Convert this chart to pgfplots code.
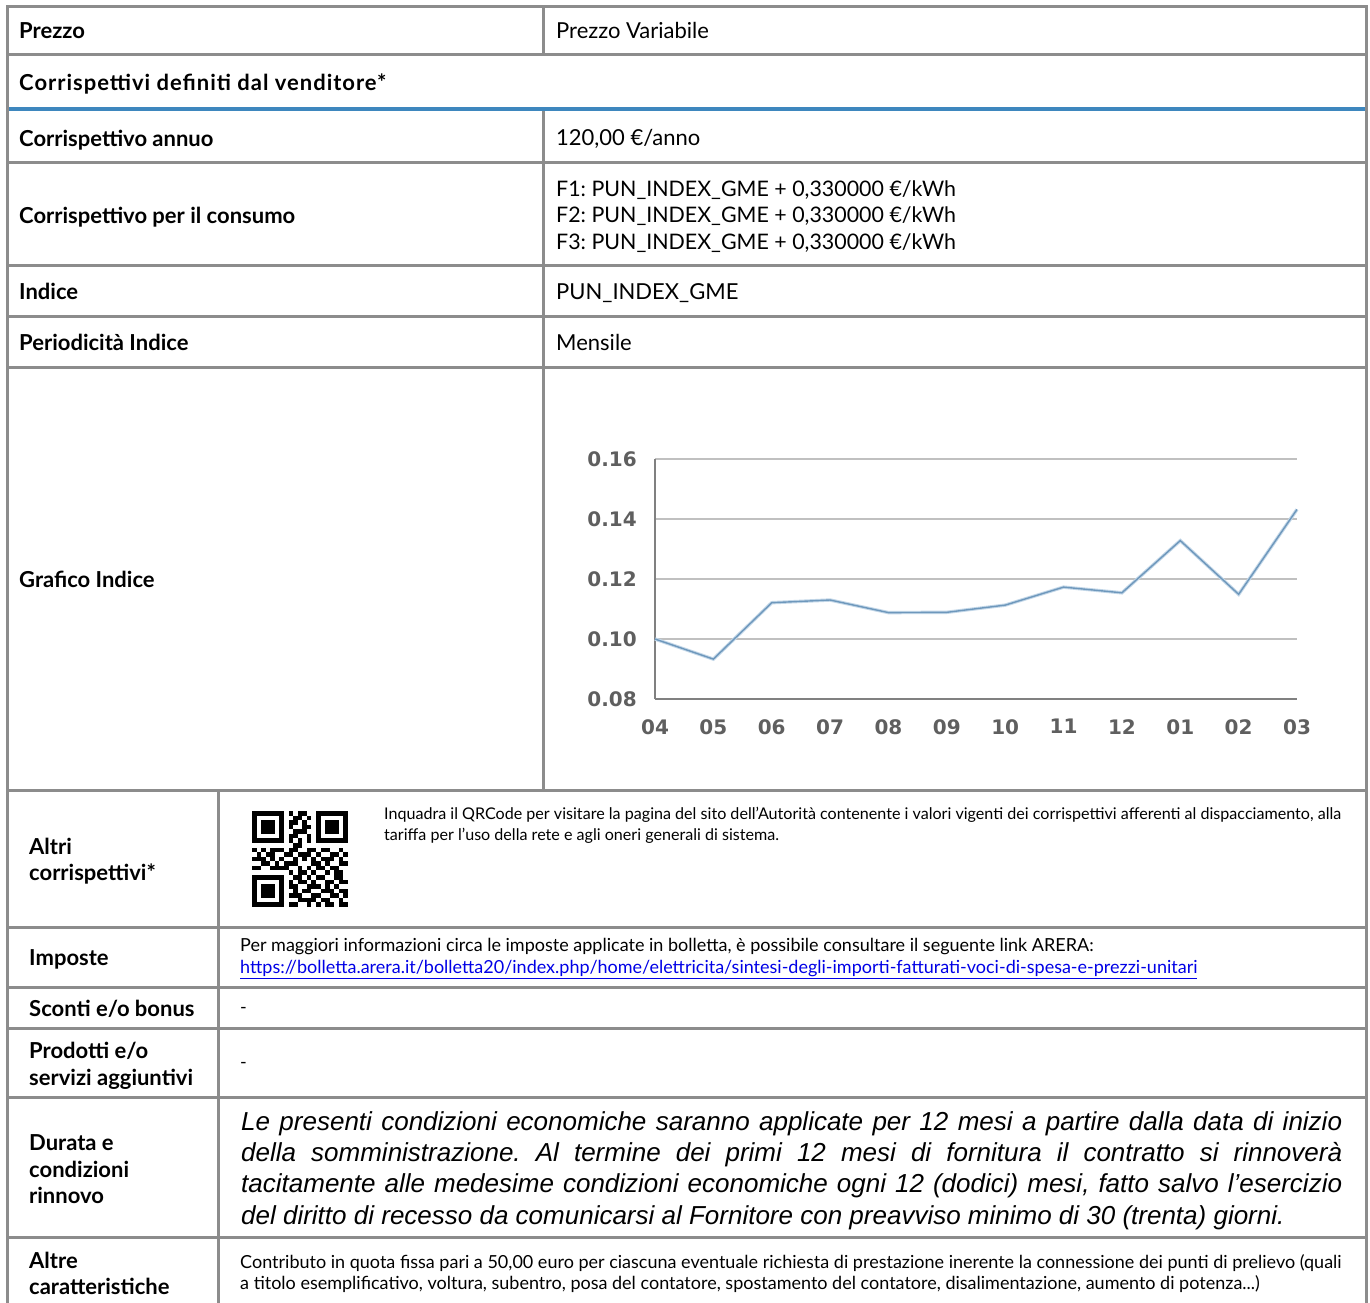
\documentclass[border=0pt]{standalone}
\usepackage{fontspec}
\setmainfont{Lato}
\newfontfamily\arialfont{Liberation Sans}
\newfontfamily\chartfont{DejaVu Sans}
\usepackage{pgfplots}
\pgfplotsset{compat=1.18}
\usepackage{pgfplotstable}

\definecolor{bordergray}{RGB}{140,140,140}
\definecolor{headblue}{RGB}{62,135,190}
\definecolor{linkblue}{RGB}{0,0,230}
\definecolor{punline}{RGB}{110,152,188}
\definecolor{punhalo}{RGB}{195,215,232}
\definecolor{ticktext}{RGB}{95,95,95}
\definecolor{gridgray}{RGB}{192,192,192}
\definecolor{axisgray}{RGB}{128,128,128}

% PUN index, monthly, April to March
\pgfplotstableread{
idx val
0  0.1000
1  0.0933
2  0.1121
3  0.1130
4  0.1088
5  0.1089
6  0.1113
7  0.1173
8  0.1154
9  0.1328
10 0.1149
11 0.1432
}\punindex

% QR code drawn module by module
\newcount\qrr \newcount\qrc
\def\qrrow#1{\qrc=0 \qrnext#1\relax\advance\qrr by 1 }
\def\qrnext#1{\ifx\relax#1\else\if1#1\fill (252+\the\qrc*4.57, 811+\the\qrr*4.57) rectangle ++(4.62,4.62);\fi\advance\qrc by 1 \expandafter\qrnext\fi}

\tikzset{
  border/.style={bordergray, line width=3pt},
  lbl/.style={anchor=base west, inner sep=0pt, font=\fontsize{22}{26}\selectfont\bfseries},
  val/.style={anchor=base west, inner sep=0pt, font=\fontsize{22}{26}\selectfont},
}

\begin{document}
\frenchspacing
\begin{tikzpicture}
\useasboundingbox (0pt,0pt) rectangle (1370pt,-1302pt);
\begin{scope}[x=1pt, y=-1pt]
  % grid of the table
  \foreach \yy in {6,54,162,265,316,367,790,927,987,1028,1097,1237}
    \draw[border] (7,\yy) -- (1366,\yy);
  \draw[headblue, line width=4.5pt] (6,109) -- (1367,109);
  \draw[border] (7,5) -- (7,1310);
  \draw[border] (1366,5) -- (1366,1310);
  \draw[border] (543,6) -- (543,54);
  \draw[border] (543,111) -- (543,790);
  \draw[border] (218,790) -- (218,1310);

  % left column
  \node[lbl] at (19,38) {Prezzo};
  \node[lbl] at (19,90) {\addfontfeatures{LetterSpace=4.5}Corrispettivi definiti dal venditore*};
  \node[lbl] at (19,146) {Corrispettivo annuo};
  \node[lbl] at (19,223) {Corrispettivo per il consumo};
  \node[lbl] at (19,299) {Indice};
  \node[lbl] at (19,350) {Periodicità Indice};
  \node[lbl] at (19,587) {Grafico Indice};
  \node[lbl] at (29,854) {Altri};
  \node[lbl] at (29,880) {corrispettivi*};
  \node[lbl] at (29,965) {Imposte};
  \node[lbl] at (29,1016) {Sconti e/o bonus};
  \node[lbl] at (29,1058) {Prodotti e/o};
  \node[lbl] at (29,1085) {servizi aggiuntivi};
  \node[lbl] at (29,1150) {Durata e};
  \node[lbl] at (29,1177) {condizioni};
  \node[lbl] at (29,1203) {rinnovo};
  \node[lbl] at (29,1268) {Altre};
  \node[lbl] at (29,1294) {caratteristiche};

  % right column
  \node[val] at (556,38) {Prezzo Variabile};
  \node[val] at (556,145) {120,00 €/anno};
  \begin{scope}[every node/.style={val, font=\fontsize{21.4}{26}\selectfont}]
    \node at (556,196) {F1: PUN\_INDEX\_GME + 0,330000 €/kWh};
    \node at (556,222) {F2: PUN\_INDEX\_GME + 0,330000 €/kWh};
    \node at (556,249) {F3: PUN\_INDEX\_GME + 0,330000 €/kWh};
  \end{scope}
  \node[val] at (556,299) {PUN\_INDEX\_GME};
  \node[val] at (556,350) {Mensile};

  \begin{scope}[every node/.style={anchor=base west, inner sep=0pt, font=\fontsize{16.1}{19}\selectfont}]
    \node at (384,819) {Inquadra il QRCode per visitare la pagina del sito dell'Autorità contenente i valori vigenti dei corrispettivi afferenti al dispacciamento, alla};
    \node at (384,840) {tariffa per l'uso della rete e agli oneri generali di sistema.};
  \end{scope}
  \begin{scope}[every node/.style={anchor=base west, inner sep=0pt, font=\fontsize{18}{21}\selectfont}]
    \node at (240,951) {Per maggiori informazioni circa le imposte applicate in bolletta, è possibile consultare il seguente link ARERA:};
    \node[text=linkblue] at (240,973) {\underline{https://bolletta.arera.it/bolletta20/index.php/home/elettricita/sintesi-degli-importi-fatturati-voci-di-spesa-e-prezzi-unitari}};
    \node at (240,1013) {-};
    \node at (240,1068) {-};
    \node at (240,1268) {Contributo in quota fissa pari a 50,00 euro per ciascuna eventuale richiesta di prestazione inerente la connessione dei punti di prelievo (quali};
    \node at (240,1289) {a titolo esemplificativo, voltura, subentro, posa del contatore, spostamento del contatore, disalimentazione, aumento di potenza...)};
  \end{scope}
  \begin{scope}[every node/.style={anchor=base west, inner sep=0pt, font=\arialfont\itshape\fontsize{26}{31}\selectfont}]
    \node at (241,1130) {\makebox[1101pt][s]{Le presenti condizioni economiche saranno applicate per 12 mesi a partire dalla data di inizio}};
    \node at (241,1161) {\makebox[1101pt][s]{della somministrazione. Al termine dei primi 12 mesi di fornitura il contratto si rinnoverà}};
    \node at (241,1192) {\makebox[1101pt][s]{tacitamente alle medesime condizioni economiche ogni 12 (dodici) mesi, fatto salvo l’esercizio}};
    \node at (241,1224) {del diritto di recesso da comunicarsi al Fornitore con preavviso minimo di 30 (trenta) giorni.};
  \end{scope}

  % QR code
  \qrr=0
  \qrrow{111111101011001111111}
  \qrrow{100000100110101000001}
  \qrrow{101110101101001011101}
  \qrrow{101110101001101011101}
  \qrrow{101110100111001011101}
  \qrrow{100000101100101000001}
  \qrrow{111111101010101111111}
  \qrrow{000000000110000000000}
  \qrrow{101011101100110110010}
  \qrrow{010110011011101001101}
  \qrrow{111010100101010111010}
  \qrrow{001101011100011010011}
  \qrrow{110011110010101101100}
  \qrrow{000000001011010010110}
  \qrrow{111111100110101100110}
  \qrrow{100000101011010011011}
  \qrrow{101110101100111010100}
  \qrrow{101110100101100111011}
  \qrrow{101110101110011001101}
  \qrrow{100000100011110110010}
  \qrrow{111111101100101011011}
\end{scope}

\begin{axis}[
  at={(655pt,-699pt)}, anchor=south west,
  scale only axis, width=642pt, height=240pt,
  xmin=0, xmax=11, ymin=0.08, ymax=0.16,
  axis x line*=bottom, axis y line*=left,
  axis line style={axisgray, line width=2pt, -},
  ymajorgrids, grid style={gridgray, line width=2pt},
  major tick length=0pt,
  xtick={0,...,11},
  xticklabels={04,05,06,07,08,09,10,11,12,01,02,03},
  ytick={0.08,0.10,0.12,0.14,0.16},
  yticklabels={0.08,0.10,0.12,0.14,0.16},
  tick label style={font=\chartfont\bfseries\fontsize{20}{24}\selectfont, text=ticktext, inner sep=0pt},
  xticklabel style={yshift=-20pt},
  yticklabel style={xshift=-18pt},
  clip=false,
]
\addplot[punhalo, line width=3.4pt] table[x=idx, y=val] {\punindex};
\addplot[punline, line width=1.4pt] table[x=idx, y=val] {\punindex};
\end{axis}
\end{tikzpicture}
\end{document}
